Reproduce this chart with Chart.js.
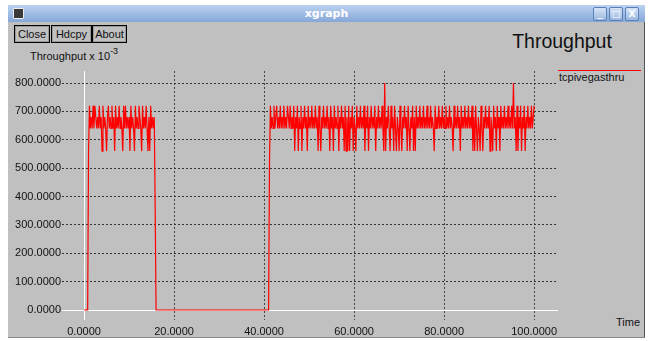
<!DOCTYPE html>
<html>
<head>
<meta charset="utf-8">
<title>xgraph</title>
<script src="https://cdn.jsdelivr.net/npm/chart.js@4.4.0/dist/chart.umd.min.js"></script>
<style>
    html, body { margin: 0; padding: 0; background: #ffffff; }
    body { width: 650px; height: 341px; position: relative; overflow: hidden;
           font-family: "Liberation Sans", Arial, sans-serif; }
    .abs { position: absolute; }
    #titlebar { left: 8px; top: 5px; width: 637px; height: 17px;
                background: linear-gradient(#bcd2f0, #85a7d8); }
    #wtitle { left: 0; width: 637px; top: 1px; text-align: center; color: #fff;
              font: bold 11px "DejaVu Sans", sans-serif; line-height: 15px; }
    #wicon { left: 5px; top: 3px; width: 9px; height: 9px; background: #3a3a3a;
             border: 1px solid #eee; border-radius: 1px; }
    .wbtn { top: 2px; width: 12px; height: 12px; border: 1px solid #5b7fb6; border-radius: 2px;
            background: linear-gradient(#d6e4f7, #9bb8e2); color: #fff; font: bold 9px "DejaVu Sans";
            text-align: center; line-height: 12px; }
    #content { left: 8px; top: 22px; width: 636px; height: 315px; background: #c0c0c0;
               border-right: 1px solid #555; border-bottom: 1px solid #888; }
    .btn { top: 25px; height: 16px; border: 1px solid #000; box-shadow: inset 0 0 0 1px #9a9a9a;
           font-size: 11px; line-height: 16px; text-align: center; color: #111; background: #c0c0c0; }
    #bigTitle { left: 500px; top: 30px; width: 124px; text-align: center; font-size: 19.5px; color: #111; }
    #yTitle { left: 30px; top: 47px; font-size: 11px; color: #111; }
    #yTitle sup { font-size: 9px; position: relative; top: -1px; }
    #legendLine { left: 558px; top: 70px; width: 83px; height: 1px; background: #ff0000; }
    #legendText { left: 559px; top: 71px; font-size: 11px; color: #111; }
    #xTitle { left: 616px; top: 316px; font-size: 11px; color: #111; }
    #chartWrap { left: 0; top: 0; width: 650px; height: 341px; z-index: 5; }
</style>
</head>
<body>
<div id="titlebar" class="abs">
    <div id="wicon" class="abs"></div>
    <div id="wtitle" class="abs">xgraph</div>
    <div class="abs wbtn" style="left:585px">_</div>
    <div class="abs wbtn" style="left:601px">□</div>
    <div class="abs wbtn" style="left:617px">X</div>
</div>
<div id="content" class="abs"></div>
<div class="abs btn" style="left:14px;width:34px">Close</div>
<div class="abs btn" style="left:51px;width:39px">Hdcpy</div>
<div class="abs btn" style="left:92px;width:33px">About</div>
<div id="bigTitle" class="abs">Throughput</div>
<div id="yTitle" class="abs">Throughput x 10<sup>-3</sup></div>
<div id="legendLine" class="abs"></div>
<div id="legendText" class="abs">tcpivegasthru</div>
<div id="xTitle" class="abs">Time</div>
<div id="chartWrap" class="abs"><canvas id="throughputChart" width="650" height="341"></canvas></div>

<script>
// samples every 0.2 s, values in units of 10^-3
const sampleStep = 0.2;

const startupTimes = [0.0, 0.8];
const startupValues = [0, 0];

const burst1Start = 1.0;
const burst1Values = [
    560, 720, 640, 680, 640,
    720, 640, 720, 680, 640,
    680, 640, 720, 640, 680,
    560, 720, 640, 680, 640,
    560, 680, 720, 640, 680,
    640, 720, 640, 680, 560,
    720, 640, 680, 640, 720,
    640, 680, 640, 560, 720,
    640, 720, 640, 680, 640,
    680, 560, 720, 640, 680,
    640, 560, 720, 640, 680,
    640, 720, 680, 640, 560,
    720, 640, 680, 640, 720,
    640, 560, 680, 560, 720,
    640, 680, 640, 680, 360
];

const idleTimes = [16.0, 41.0];
const idleValues = [0, 0];

const burst2Start = 41.2;
const burst2Values = [
    520, 720, 640, 680, 640,
    720, 640, 680, 720, 640,
    680, 640, 720, 640, 680,
    640, 720, 640, 680, 640,
    720, 680, 640, 720, 640,
    680, 640, 720, 560, 680,
    640, 720, 560, 680, 640,
    720, 560, 680, 640, 720,
    640, 680, 560, 720, 640,
    680, 640, 720, 640, 680,
    640, 720, 640, 680, 560,
    720, 640, 560, 680, 640,
    720, 640, 680, 640, 720,
    640, 680, 560, 720, 640,
    680, 560, 720, 640, 680,
    640, 720, 560, 680, 640,
    720, 640, 680, 560, 720,
    560, 680, 560, 720, 560,
    680, 640, 720, 560, 680,
    640, 560, 720, 640, 680,
    640, 720, 640, 680, 640,
    720, 560, 680, 640, 720,
    560, 680, 640, 720, 640,
    680, 640, 720, 560, 680,
    640, 720, 640, 680, 640,
    720, 640, 560, 800, 560,
    680, 640, 720, 640, 560,
    720, 640, 680, 560, 720,
    640, 560, 680, 640, 560,
    720, 640, 560, 680, 640,
    720, 640, 680, 560, 720,
    640, 560, 680, 640, 720,
    560, 680, 560, 720, 640,
    680, 640, 720, 640, 680,
    640, 720, 640, 680, 640,
    720, 640, 680, 640, 720,
    640, 680, 640, 560, 720,
    640, 680, 640, 720, 640,
    680, 640, 720, 640, 680,
    640, 720, 640, 680, 640,
    720, 640, 680, 640, 560,
    720, 640, 680, 640, 720,
    640, 680, 560, 720, 640,
    680, 640, 720, 640, 680,
    640, 720, 640, 680, 640,
    720, 560, 680, 560, 720,
    640, 560, 680, 640, 560,
    720, 640, 560, 680, 640,
    720, 640, 680, 640, 720,
    560, 680, 640, 560, 720,
    640, 680, 560, 720, 640,
    680, 560, 720, 640, 680,
    640, 720, 640, 680, 640,
    720, 640, 680, 640, 720,
    640, 800, 640, 680, 560,
    720, 560, 680, 640, 720,
    560, 680, 640, 720, 560,
    680, 640, 720, 640, 680,
    640, 720, 640, 680, 720
];

const xTickValues = [0, 20, 40, 60, 80, 100];
const yTickValues = [0, 100, 200, 300, 400, 500, 600, 700, 800];

// gộp các đoạn thành một dãy điểm (x = thời gian)
const points = [];
startupTimes.forEach((t, i) => points.push({ x: t, y: startupValues[i] }));
burst1Values.forEach((v, i) => points.push({ x: +(burst1Start + i * sampleStep).toFixed(1), y: v }));
idleTimes.forEach((t, i) => points.push({ x: t, y: idleValues[i] }));
burst2Values.forEach((v, i) => points.push({ x: +(burst2Start + i * sampleStep).toFixed(1), y: v }));

// trục 0 màu trắng như xgraph
const zeroAxesPlugin = {
    id: 'zeroAxes',
    beforeDatasetsDraw(chart) {
        const { ctx, chartArea, scales } = chart;
        const x0 = Math.round(scales.x.getPixelForValue(0)) + 0.5;
        const y0 = Math.round(scales.y.getPixelForValue(0)) + 0.5;
        ctx.save();
        ctx.strokeStyle = '#ffffff';
        ctx.lineWidth = 1;
        ctx.beginPath();
        ctx.moveTo(x0, chartArea.top);
        ctx.lineTo(x0, chartArea.bottom);
        ctx.moveTo(chartArea.left, y0);
        ctx.lineTo(chartArea.right, y0);
        ctx.stroke();
        ctx.restore();
    }
};

const tickFont = { family: '"Liberation Sans", Arial, sans-serif', size: 11 };

try {
    const ctx = document.getElementById('throughputChart').getContext('2d');
    new Chart(ctx, {
        type: 'line',
        data: {
            datasets: [{
                label: 'tcpivegasthru',
                data: points,
                borderColor: '#ff0000',
                borderWidth: 1.2,
                pointRadius: 0,
                tension: 0,
                fill: false
            }]
        },
        options: {
            responsive: false,
            animation: false,
            layout: { padding: { left: 12, right: 92, top: 71, bottom: 0 } },
            plugins: { legend: { display: false }, tooltip: { enabled: false } },
            scales: {
                x: {
                    type: 'linear',
                    min: -4.9,
                    max: 105.3,
                    afterBuildTicks: axis => { axis.ticks = xTickValues.map(v => ({ value: v })); },
                    afterFit: axis => { axis.height = 21; },
                    ticks: {
                        callback: v => v.toFixed(4),
                        font: tickFont,
                        color: '#111',
                        padding: 5,
                        maxRotation: 0,
                        autoSkip: false
                    },
                    grid: {
                        color: c => (c.tick && c.tick.value === 0) ? 'rgba(0,0,0,0)' : '#444444',
                        lineWidth: 1,
                        drawTicks: false
                    },
                    border: { display: false, dash: [2, 2] }
                },
                y: {
                    type: 'linear',
                    min: -35.2,
                    max: 842.3,
                    afterBuildTicks: axis => { axis.ticks = yTickValues.map(v => ({ value: v })); },
                    afterFit: axis => { axis.width = 50; },
                    ticks: {
                        callback: v => v.toFixed(4),
                        font: tickFont,
                        color: '#111',
                        padding: 1
                    },
                    grid: {
                        color: c => (c.tick && c.tick.value === 0) ? 'rgba(0,0,0,0)' : '#333333',
                        lineWidth: 1,
                        drawTicks: false
                    },
                    border: { display: false, dash: [2, 2] }
                }
            }
        },
        plugins: [zeroAxesPlugin]
    });
} catch (error) {
    console.error('Lỗi khi vẽ biểu đồ:', error);
}
</script>
</body>
</html>
